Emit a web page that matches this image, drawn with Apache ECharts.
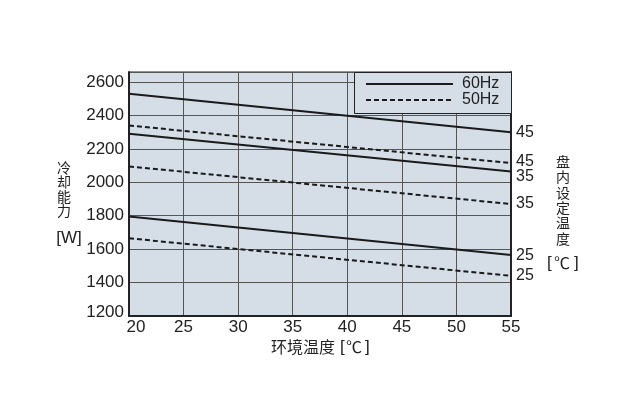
<!DOCTYPE html>
<html><head><meta charset="utf-8">
<script src="https://cdn.jsdelivr.net/npm/echarts@6/dist/echarts.min.js"></script>
<style>html,body{margin:0;padding:0;background:#fff}#c{width:636px;height:416px}</style>
</head><body><div id="c"></div>
<script>
const xPoints = [20, 55];
const s60_45 = [2530, 2300];
const s50_45 = [2340, 2115];
const s60_35 = [2290, 2065];
const s50_35 = [2095, 1870];
const s60_25 = [1795, 1565];
const s50_25 = [1665, 1440];
const endLabels = ['45', '45', '35', '35', '25', '25'];
const labelOffsetY = [0, -1, 5, 0, 1, 0];
const seriesNames = ['60Hz', '50Hz', '60Hz', '50Hz', '60Hz', '50Hz'];
const seriesValues = [s60_45, s50_45, s60_35, s50_35, s60_25, s50_25];
const legendNames = ['60Hz', '50Hz'];

const NUM = 'Liberation Sans, Arial, sans-serif';
const CJK = 'Noto Sans CJK SC, sans-serif';
const INK = '#222';
const BG = '#d5dee6';
const DASH = [5, 3];

const series = seriesValues.map((vals, i) => ({
  type: 'line',
  name: seriesNames[i],
  data: xPoints.map((x, j) => [x, vals[j]]),
  symbol: 'none',
  silent: true,
  z: 3,
  lineStyle: { color: '#1a1a1a', width: 2, type: seriesNames[i] === '50Hz' ? DASH : 'solid' },
  endLabel: { show: true, formatter: endLabels[i], color: INK, fontFamily: NUM, fontSize: 16, distance: 5, offset: [0, labelOffsetY[i]] }
}));

const legendGraphics = [
  { type: 'rect', shape: { x: 354.5, y: 72.5, width: 157, height: 41 }, style: { fill: BG, stroke: INK, lineWidth: 1 }, z: 5 }
];
legendNames.forEach((n, i) => {
  const y = 84 + i * 16;
  legendGraphics.push({ type: 'line', shape: { x1: 366, y1: y, x2: 453, y2: y }, style: { stroke: '#1a1a1a', lineWidth: 2, lineDash: n === '50Hz' ? DASH : null }, z: 6 });
  legendGraphics.push({ type: 'text', x: 462, y: y, style: { text: n, font: '16px ' + NUM, fill: INK, verticalAlign: 'middle' }, z: 6 });
});

const chart = echarts.init(document.getElementById('c'));
chart.setOption({
  animation: false,
  backgroundColor: '#fff',
  grid: { left: 129, right: 125, top: 72, bottom: 100, show: true, backgroundColor: BG, borderColor: INK, borderWidth: 1 },
  xAxis: {
    type: 'value', min: 20, max: 55, interval: 5,
    axisLine: { show: true, lineStyle: { color: INK, width: 2 } },
    axisTick: { show: false },
    splitLine: { show: true, lineStyle: { color: '#555', width: 1 } },
    axisLabel: {
      color: INK, fontFamily: NUM, fontSize: 17, margin: 3,
      formatter: v => v === 20 ? '{first|' + v + '}' : String(v),
      rich: { first: { color: INK, fontFamily: NUM, fontSize: 17, padding: [0, 0, 0, 14] } }
    }
  },
  yAxis: [{
    type: 'value', min: 1200, max: 2660, interval: 200,
    axisLine: { show: true, lineStyle: { color: INK, width: 2 } },
    axisTick: { show: false },
    splitLine: { show: true, lineStyle: { color: '#555', width: 1 } },
    axisLabel: {
      color: INK, fontFamily: NUM, fontSize: 17, margin: 5, showMaxLabel: false,
      formatter: v => v === 1200 ? '{first|' + v + '}' : String(v),
      rich: { first: { color: INK, fontFamily: NUM, fontSize: 17, padding: [0, 0, 8, 0] } }
    }
  }, {
    type: 'value', min: 1200, max: 2660, position: 'right',
    axisLine: { show: true, lineStyle: { color: INK, width: 2 } },
    axisTick: { show: false }, axisLabel: { show: false }, splitLine: { show: false }
  }],
  graphic: legendGraphics.concat([
    { type: 'text', x: 64, y: 189, style: { text: '冷\n却\n能\n力', font: '14px ' + CJK, fill: INK, lineHeight: 14.5, align: 'center', verticalAlign: 'middle' } },
    { type: 'text', x: 69, y: 238, style: { text: '[W]', font: '17px ' + NUM, fill: INK, align: 'center', verticalAlign: 'middle' } },
    { type: 'text', x: 563, y: 200, style: { text: '盘\n内\n设\n定\n温\n度', font: '14px ' + CJK, fill: INK, lineHeight: 15.4, align: 'center', verticalAlign: 'middle' } },
    { type: 'text', x: 547, y: 263, style: { text: '[', font: '17px ' + NUM, fill: INK, verticalAlign: 'middle' } },
    { type: 'text', x: 554, y: 263, style: { text: '℃', font: '16px ' + CJK, fill: INK, verticalAlign: 'middle' } },
    { type: 'text', x: 574, y: 263, style: { text: ']', font: '17px ' + NUM, fill: INK, verticalAlign: 'middle' } },
    { type: 'text', x: 271, y: 347, style: { text: '环境温度', font: '16px ' + CJK, fill: INK, verticalAlign: 'middle' } },
    { type: 'text', x: 340, y: 347, style: { text: '[', font: '17px ' + NUM, fill: INK, verticalAlign: 'middle' } },
    { type: 'text', x: 346, y: 347, style: { text: '℃', font: '16px ' + CJK, fill: INK, verticalAlign: 'middle' } },
    { type: 'text', x: 365, y: 347, style: { text: ']', font: '17px ' + NUM, fill: INK, verticalAlign: 'middle' } }
  ]),
  series: series
});
</script></body></html>
